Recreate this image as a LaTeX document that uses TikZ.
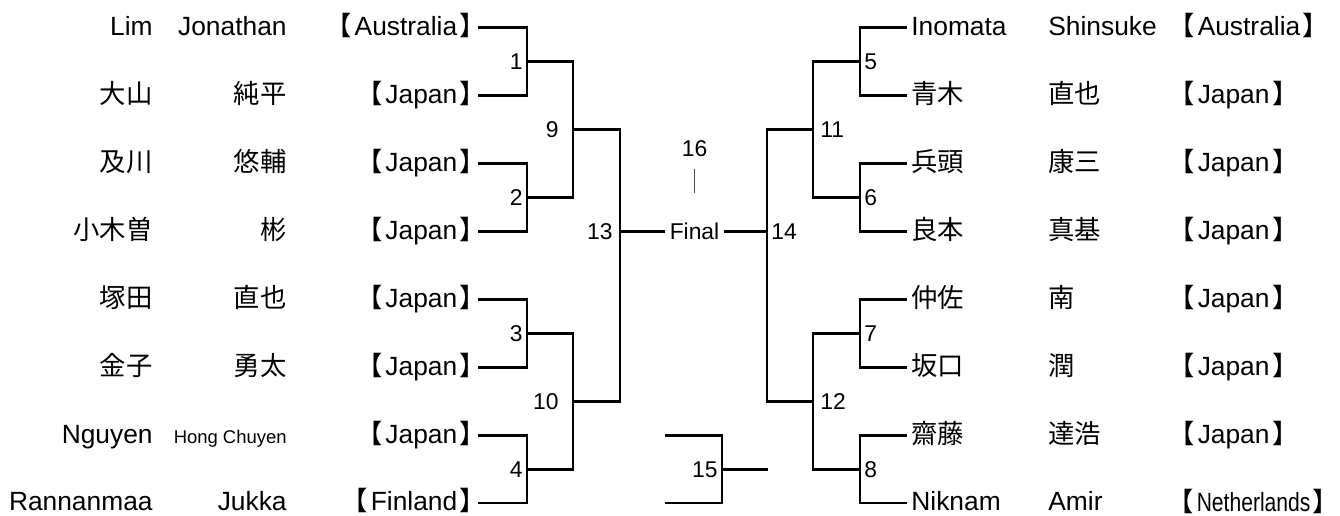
\documentclass[tikz,border=0pt]{standalone}
\usepackage{graphicx}
\usepackage{fontspec}
\setmainfont{Liberation Sans}
\newfontfamily\jp{Noto Sans CJK JP}
\newfontfamily\jpb[RawFeature=+palt]{Noto Sans CJK JP}
\usetikzlibrary{positioning,calc}
\newcommand{\ctry}[1]{{\jpb 【}\kern0.12em#1\kern0.12em{\jpb 】}}

\begin{document}
\begin{tikzpicture}[x=0.02cm, y=-0.02cm, ultra thick, line join=miter,
  name node/.style={font=\fontsize{15}{18}\selectfont, inner ysep=0pt, inner xsep=0.06cm, text height=12pt, text depth=3pt},
  num node/.style={font=\fontsize{13}{15}\selectfont, inner ysep=0pt, inner xsep=0.06cm, text height=9.3pt, text depth=0pt}]
\useasboundingbox (0,0) rectangle (1340,516);
% left half
\begin{scope}[every node/.style={name node,anchor=east}]
\node (fL1) at (157,27.5) {Lim};        \node (gL1) at (291,27.5) {Jonathan};  \node (pL1) at (478,27.5) {\ctry{Australia}};
\node (fL2) at (157,95.5) {\jp 大山};    \node (gL2) at (291,95.5) {\jp 純平};   \node (pL2) at (478,95.5) {\ctry{Japan}};
\node (fL3) at (157,163.5) {\jp 及川};   \node (gL3) at (291,163.5) {\jp 悠輔};  \node (pL3) at (478,163.5) {\ctry{Japan}};
\node (fL4) at (157,231.5) {\jp 小木曽}; \node (gL4) at (291,231.5) {\jp 彬};    \node (pL4) at (478,231.5) {\ctry{Japan}};
\node (fL5) at (157,299.5) {\jp 塚田};   \node (gL5) at (291,299.5) {\jp 直也};  \node (pL5) at (478,299.5) {\ctry{Japan}};
\node (fL6) at (157,367.5) {\jp 金子};   \node (gL6) at (291,367.5) {\jp 勇太};  \node (pL6) at (478,367.5) {\ctry{Japan}};
\node (fL7) at (157,435.5) {Nguyen};    \node[font=\fontsize{10.5}{12}\selectfont] (gL7) at (291,435.5) {Hong Chuyen}; \node (pL7) at (478,435.5) {\ctry{Japan}};
\node (fL8) at (157,503) {Rannanmaa}; \node (gL8) at (291,503) {Jukka};     \node (pL8) at (478,503) {\ctry{Finland}};
\end{scope}
% right half
\begin{scope}[every node/.style={name node,anchor=west}]
\node (pR1) at (907,27.5) {Inomata};    \node (gR1) at (1044,27.5) {Shinsuke};  \node (cR1) at (1177,27.5) {\ctry{Australia}};
\node (pR2) at (907,95.5) {\jp 青木};    \node (gR2) at (1044,95.5) {\jp 直也};   \node (cR2) at (1177,95.5) {\ctry{Japan}};
\node (pR3) at (907,163.5) {\jp 兵頭};   \node (gR3) at (1044,163.5) {\jp 康三};  \node (cR3) at (1177,163.5) {\ctry{Japan}};
\node (pR4) at (907,231.5) {\jp 良本};   \node (gR4) at (1044,231.5) {\jp 真基};  \node (cR4) at (1177,231.5) {\ctry{Japan}};
\node (pR5) at (907,299.5) {\jp 仲佐};   \node (gR5) at (1044,299.5) {\jp 南};    \node (cR5) at (1177,299.5) {\ctry{Japan}};
\node (pR6) at (907,367.5) {\jp 坂口};   \node (gR6) at (1044,367.5) {\jp 潤};    \node (cR6) at (1177,367.5) {\ctry{Japan}};
\node (pR7) at (907,435.5) {\jp 齋藤};   \node (gR7) at (1044,435.5) {\jp 達浩};  \node (cR7) at (1177,435.5) {\ctry{Japan}};
\node (pR8) at (907,503) {Niknam};    \node (gR8) at (1044,503) {Amir};      \node[text depth=2pt] (cR8) at (1176,503) {\ctry{\scalebox{0.8}[1]{Netherlands}}};
\end{scope}
% match points
\coordinate (m1) at (527,61.5);  \coordinate (m2) at (527,197.5);
\coordinate (m3) at (527,333.5); \coordinate (m4) at (527,469.5);
\coordinate (m9) at (573,129.5); \coordinate (m10) at (573,401.5);
\coordinate (m13) at (620,231.5); \coordinate (m14) at (767,231.5);
\coordinate (m11) at (813,129.5); \coordinate (m12) at (813,401.5);
\coordinate (m5) at (860,61.5);  \coordinate (m6) at (860,197.5);
\coordinate (m7) at (860,333.5); \coordinate (m8) at (860,469.5);
\coordinate (a15) at (665,435.5); \coordinate (b15) at (665,503);
\coordinate (m15) at (722,469.5); \coordinate (c15) at (768,469.5);
\coordinate (t16) at (694.5,193);
% labels
\begin{scope}[every node/.style={num node}]
\node[anchor=east] (n1) at (m1) {1};
\node[anchor=east] (n2) at (m2) {2};
\node[anchor=east] (n3) at (m3) {3};
\node[anchor=east] (n4) at (m4) {4};
\node[anchor=east] (n9) at ([xshift=-0.2cm]m9) {9};
\node[anchor=east] (n10) at ([xshift=-0.2cm]m10) {10};
\node[anchor=east] (n13) at ([xshift=-0.06cm]m13) {13};
\node[anchor=west] (n5) at (m5) {5};
\node[anchor=west] (n6) at (m6) {6};
\node[anchor=west] (n7) at (m7) {7};
\node[anchor=west] (n8) at (m8) {8};
\node[anchor=west] (n11) at ([xshift=0.06cm]m11) {11};
\node[anchor=west] (n12) at ([xshift=0.06cm]m12) {12};
\node[anchor=west] (n14) at (m14) {14};
\node[anchor=east] (n15) at (m15) {15};
\node (n16) at (694.5,148) {16};
\node (fin) at (694.5,231.5) {Final};
\end{scope}
% bracket lines
\draw (pL1.east) -| (m1);  \draw (pL2.east) -| (m1);
\draw (pL3.east) -| (m2);  \draw (pL4.east) -| (m2);
\draw (pL5.east) -| (m3);  \draw (pL6.east) -| (m3);
\draw (pL7.east) -| (m4);  \draw (pL8.east) -| (m4);
\draw (m1) -| (m9);  \draw (m2) -| (m9);
\draw (m3) -| (m10); \draw (m4) -| (m10);
\draw (m9) -| (m13); \draw (m10) -| (m13);
\draw (m13) -- (fin) -- (m14);
\draw (m14) |- (m11); \draw (m14) |- (m12);
\draw (m11) |- (m5);  \draw (m11) |- (m6);
\draw (m12) |- (m7);  \draw (m12) |- (m8);
\draw (m5) |- (pR1.west); \draw (m5) |- (pR2.west);
\draw (m6) |- (pR3.west); \draw (m6) |- (pR4.west);
\draw (m7) |- (pR5.west); \draw (m7) |- (pR6.west);
\draw (m8) |- (pR7.west); \draw (m8) |- (pR8.west);
\draw (a15) -| (m15); \draw (b15) -| (m15);
\draw (m15) -- (c15);
\draw[line width=0.5pt,black!70,shorten <=0.22cm] (n16.south) -- (t16);
\end{tikzpicture}
\end{document}
